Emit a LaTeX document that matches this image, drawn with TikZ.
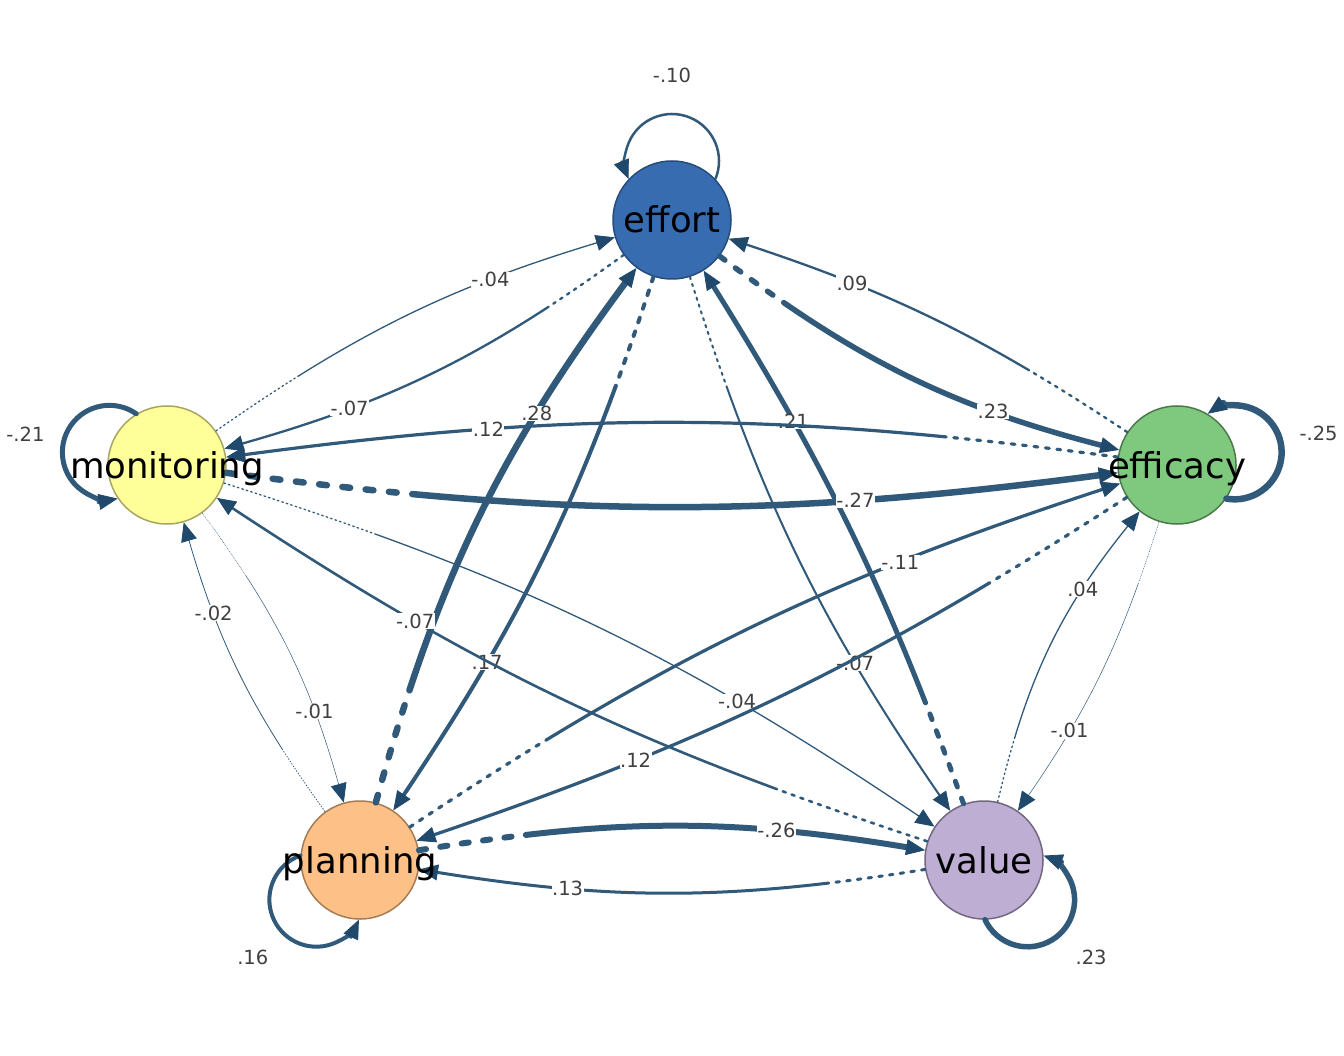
\documentclass[tikz,border=0pt]{standalone}
\usepackage{fontspec}
\setmainfont{DejaVu Sans}
\usetikzlibrary{arrows.meta}

\definecolor{edgecol}{HTML}{30597A}
\definecolor{tipcol}{HTML}{20496C}
\definecolor{effcol}{HTML}{386CB0}
\definecolor{efccol}{HTML}{7FC97F}
\definecolor{moncol}{HTML}{FFFF99}
\definecolor{placol}{HTML}{FDC086}
\definecolor{valcol}{HTML}{BEAED4}

\begin{document}
\begin{tikzpicture}[x=1pt,y=1pt,
    vert/.style={circle,minimum size=118pt,inner sep=0pt,line width=1.5pt},
    vlab/.style={font=\fontsize{35.5}{35.5}\selectfont,anchor=base,inner sep=0pt},
    elab/.style={font=\fontsize{19.5}{19.5}\selectfont,text=black!75,fill=white,inner sep=0.5pt},
    link/.style={draw=edgecol,line cap=round,
      -{Triangle[length=19pt,width=16pt,line width=0.8pt,fill=tipcol,color=tipcol]}},
    % first part dashed (#1 = dashed length, #2 = width), rest solid
    fade/.code 2 args={%
      \pgfmathsetmacro\fdw{#2}%
      \pgfmathtruncatemacro\fdn{max(1,round(#1/(3.6*#2)))}%
      \pgfmathsetmacro\fdon{1.2*#2}%
      \pgfmathsetmacro\fdoff{2.4*#2}%
      \gdef\fdseq{}%
      \foreach \k in {1,...,\fdn}{\xdef\fdseq{\fdseq on \fdon pt off \fdoff pt }}%
      \edef\fdrun{\noexpand\pgfkeysalso{line width=\fdw pt,dash pattern=\fdseq on 4000pt off 1pt}}%
      \fdrun}
  ]
  \fill[white] (0,0) rectangle (1344,-1056);
  \useasboundingbox (0,0) rectangle (1344,-1056);

  % nodes
  \node[vert,fill=effcol,draw=effcol!70!black] (eff) at (672,-220) {};
  \node[vert,fill=efccol,draw=efccol!60!black] (efc) at (1177,-465) {};
  \node[vert,fill=moncol,draw=moncol!65!black] (mon) at (167,-465) {};
  \node[vert,fill=placol,draw=placol!65!black] (pla) at (360,-860) {};
  \node[vert,fill=valcol,draw=valcol!60!black] (val) at (984,-860) {};

  % self loops
  \draw[link,line width=2.5pt] (eff.center) ++(90:59) ++(-22.5:47) arc[start angle=-22.5,end angle=202.5,radius=47];
  \draw[link,line width=5pt] (mon.center) ++(167.6:59) ++(55.1:47) arc[start angle=55.1,end angle=280.1,radius=47];
  \draw[link,line width=6.5pt] (efc.center) ++(12.4:59) ++(-100.1:47) arc[start angle=-100.1,end angle=124.9,radius=47];
  \draw[link,line width=4pt] (pla.center) ++(222.3:59) ++(109.8:47) arc[start angle=109.8,end angle=334.8,radius=47];
  \draw[link,line width=5.5pt] (val.center) ++(-42.4:59) ++(-154.9:47) arc[start angle=-154.9,end angle=70.1,radius=47];
  \path (eff.center) ++(90:145) node[elab] (effl) {-.10};
  \path (mon.center) ++(167.6:145) node[elab] (monl) {-.21};
  \path (efc.center) ++(12.4:145) node[elab] (efcl) {-.25};
  \path (pla.center) ++(222.3:145) node[elab] (plal) {.16};
  \path (val.center) ++(-42.4:145) node[elab] (vall) {.23};

  % edges
  \draw[link,fade={85}{5.5}] (eff) to[bend right=11.3] node[elab,pos=0.72] {.23} (efc);
  \draw[link,fade={115}{2.3}] (efc) to[bend right=7.6] node[elab,pos=0.72] {.09} (eff);
  \draw[link,fade={100}{1.3}] (mon) to[bend left=9] node[elab,pos=0.72] {-.04} (eff);
  \draw[link,fade={90}{2.3}] (eff) to[bend left=10] node[elab,pos=0.72] {-.07} (mon);
  \draw[link,fade={115}{6.5}] (pla) to[bend left=10.6] node[elab,pos=0.72] {.28} (eff);
  \draw[link,fade={115}{4}] (eff) to[bend left=7.9] node[elab,pos=0.72] {.17} (pla);
  \draw[link,fade={117}{5}] (val) to[bend right=6] node[elab,pos=0.72] {.21} (eff);
  \draw[link,fade={115}{2}] (eff) to[bend right=8.5] node[elab,pos=0.72] {-.07} (val);
  \draw[link,fade={180}{6.5}] (mon) to[bend right=7.5] node[elab,pos=0.72] {-.27} (efc);
  \draw[link,fade={175}{3.2}] (efc) to[bend right=7.6] node[elab,pos=0.72] {.12} (mon);
  \draw[link,fade={75}{0.8}] (pla) to[bend left=9.8] node[elab,pos=0.72] {-.02} (mon);
  \draw[link,fade={75}{0.5}] (mon) to[bend left=10.3] node[elab,pos=0.72] {-.01} (pla);
  \draw[link,fade={155}{2.6}] (val) to[bend left=7.6] node[elab,pos=0.72] {-.07} (mon);
  \draw[link,fade={160}{1.3}] (mon) to[bend left=8.2] node[elab,pos=0.72] {-.04} (val);
  \draw[link,fade={157}{3.2}] (pla) to[bend left=7.7] node[elab,pos=0.72] {-.11} (efc);
  \draw[link,fade={157}{3.2}] (efc) to[bend left=7] node[elab,pos=0.72] {.12} (pla);
  \draw[link,fade={65}{1.3}] (val) to[bend left=12.8] node[elab,pos=0.72] {.04} (efc);
  \draw[link,fade={65}{0.5}] (efc) to[bend left=8.5] node[elab,pos=0.72] {-.01} (val);
  \draw[link,fade={100}{6}] (pla) to[bend left=9.4] node[elab,pos=0.72] {-.26} (val);
  \draw[link,fade={100}{3}] (val) to[bend left=9.1] node[elab,pos=0.72] {.13} (pla);

  % node texts
  \node[vlab] (efft) at ([yshift=-13pt]eff.center) {effort};
  \node[vlab] (efct) at ([yshift=-13pt]efc.center) {efficacy};
  \node[vlab] (mont) at ([yshift=-13pt]mon.center) {monitoring};
  \node[vlab] (plat) at ([yshift=-13pt]pla.center) {planning};
  \node[vlab] (valt) at ([yshift=-13pt]val.center) {value};
\end{tikzpicture}
\end{document}
